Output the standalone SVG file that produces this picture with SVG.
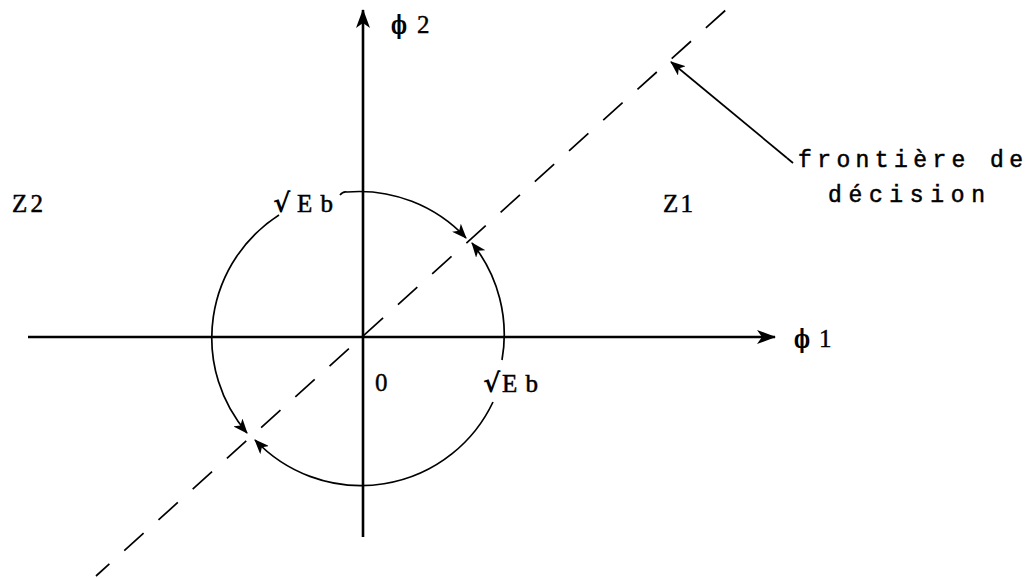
<svg xmlns="http://www.w3.org/2000/svg" width="1028" height="578" viewBox="0 0 1028 578">
<defs>
<marker id="ah" markerUnits="userSpaceOnUse" markerWidth="16" markerHeight="12" refX="14" refY="6" orient="auto">
<path d="M0,0 L15,6 L0,12 L4,6 Z" fill="#000"/>
</marker>
<marker id="axh" markerUnits="userSpaceOnUse" markerWidth="20" markerHeight="14" refX="18" refY="7" orient="auto">
<path d="M0,0 L19,7 L0,14 L5,7 Z" fill="#000"/>
</marker>
<style>
.axis{stroke:#000;stroke-width:2.6;fill:none}
.arc{stroke:#000;stroke-width:1.7;fill:none}
.dash{stroke:#000;stroke-width:1.7;fill:none;stroke-dasharray:26 20}
.lbl{font-family:"Liberation Serif",serif;font-size:25px;fill:#000;stroke:#000;stroke-width:0.5}
.mono{font-family:"Liberation Mono",monospace;font-size:23px;fill:#000;stroke:#000;stroke-width:0.5}
.phi{font-family:"DejaVu Serif",serif;font-weight:bold;font-size:26px;fill:#000}
.num{font-family:"Liberation Serif",serif;font-size:25px;fill:#000;stroke:#000;stroke-width:0.4}
.rad{font-family:"DejaVu Sans",sans-serif;font-weight:bold;font-size:26px;fill:#000}
</style>
</defs>
<g id="connectors">
<line id="axis-x" class="axis" x1="28" y1="337" x2="775" y2="337" marker-end="url(#axh)"/>
<line id="axis-y" class="axis" x1="363" y1="537" x2="363" y2="10" marker-end="url(#axh)"/>
<line id="boundary" class="dash" x1="96" y1="576" x2="728" y2="8" stroke-dashoffset="8"/>
<path id="arc-a" class="arc" d="M 340,195 Q 343,191 347,192 A 146 146 0 0 1 466,238" marker-end="url(#ah)"/>
<path id="arc-b" class="arc" d="M 502,360 A 146 146 0 0 0 472,243" marker-end="url(#ah)"/>
<path id="arc-c" class="arc" d="M 279,215 A 146 146 0 0 0 247,433" marker-end="url(#ah)"/>
<path id="arc-d" class="arc" d="M 493,402 A 146 146 0 0 1 255,440" marker-end="url(#ah)"/>
<line id="leader" class="arc" x1="787" y1="158" x2="671" y2="62" marker-end="url(#ah)"/>
<path class="arc" d="M 787,158 L 793,163"/>
</g>
<g id="label-phi2"><text x="391" y="34" class="phi" textLength="16" lengthAdjust="spacingAndGlyphs">ϕ</text><text x="417" y="33" class="num">2</text></g>
<g id="label-phi1"><text x="794" y="348" class="phi" textLength="16" lengthAdjust="spacingAndGlyphs">ϕ</text><text x="819" y="347" class="num">1</text></g>
<g id="label-eb-top"><text x="273" y="212" class="rad">√</text><text x="297" y="212" class="lbl" textLength="36" lengthAdjust="spacing">Eb</text></g>
<g id="label-eb-bottom"><text x="483" y="392" class="rad">√</text><text x="502" y="392" class="lbl" textLength="36" lengthAdjust="spacing">Eb</text></g>
<g id="label-origin"><text x="375" y="391" class="num">0</text></g>
<g id="label-z2"><text x="12" y="212" class="lbl" textLength="31" lengthAdjust="spacing">Z2</text></g>
<g id="label-z1"><text x="663" y="212" class="lbl" textLength="30" lengthAdjust="spacing">Z1</text></g>
<g id="label-boundary">
<text x="798" y="167" class="mono" textLength="225" lengthAdjust="spacing">frontière de</text>
<text x="828" y="202" class="mono" textLength="157" lengthAdjust="spacing">décision</text>
</g>
</svg>
